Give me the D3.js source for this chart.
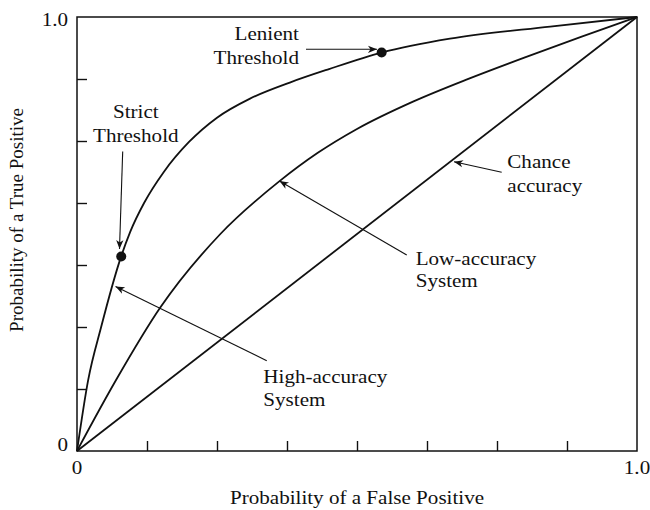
<!DOCTYPE html>
<html>
<head>
<meta charset="utf-8">
<script src="https://cdn.jsdelivr.net/npm/d3@7/dist/d3.min.js"></script>
<style>
  body { margin: 0; background: #fff; }
  text { font-family: "Liberation Serif", "Times New Roman", serif; font-size: 19px; fill: #111; }
  .curve { fill: none; stroke: #111; stroke-width: 1.8px; }
  .arrow { stroke: #111; stroke-width: 1.1px; }
</style>
</head>
<body>
<div class="roc"></div>
<script>
// ROC curves (false positive rate, true positive rate)
const highFP = [0, 0.02, 0.043, 0.079, 0.095, 0.12, 0.155, 0.2, 0.25, 0.309, 0.38, 0.45, 0.544, 0.666, 0.845, 1]
const highTP = [0, 0.164, 0.285, 0.449, 0.505, 0.572, 0.643, 0.712, 0.768, 0.812, 0.849, 0.88, 0.918, 0.95, 0.978, 1]
const lowFP = [0, 0.07, 0.149, 0.256, 0.36, 0.43, 0.5, 0.6, 0.7, 0.8, 0.9, 1]
const lowTP = [0, 0.164, 0.331, 0.5, 0.62, 0.687, 0.742, 0.805, 0.858, 0.907, 0.954, 1]
const chanceFP = [0, 1]
const chanceTP = [0, 1]

// threshold points
const thresholds = [
  { name: 'strict', fp: 0.079, tp: 0.448 },
  { name: 'lenient', fp: 0.544, tp: 0.918 }
]

const xTicks = [0, 0.125, 0.25, 0.375, 0.5, 0.625, 0.75, 0.875, 1]
const yTicks = [0, 1/7, 2/7, 3/7, 4/7, 5/7, 6/7, 1]
const xTickLabels = ['0', '1.0']
const yTickLabels = ['0', '1.0']

const svg = d3.select('.roc')
  .append('svg')
    .attr('width', 650)
    .attr('height', 510)

const x = d3.scaleLinear().domain([0, 1]).range([77, 637])
const y = d3.scaleLinear().domain([0, 1]).range([451, 17])

// horizontal text is a bit wider than tall in the original
const stretch = 1.11
function label (px, py, lines, anchor, gap) {
  lines.forEach((t, i) => {
    svg.append('text')
      .attr('transform', `translate(${px},${py + i * gap}) scale(${stretch},1)`)
      .attr('text-anchor', anchor)
      .text(t)
  })
}

//arrow head
svg.append('defs').append('marker')
  .attr('id', 'head')
  .attr('viewBox', '-10 -5 11 10')
  .attr('refX', 0)
  .attr('refY', 0)
  .attr('markerWidth', 11)
  .attr('markerHeight', 10)
  .attr('markerUnits', 'userSpaceOnUse')
  .attr('orient', 'auto')
  .append('path')
    .attr('d', 'M0,0 L-9,-3.6 L-6.5,0 L-9,3.6 Z')
    .attr('fill', '#111')

//ticks
svg.append('g')
  .attr('transform', `translate(0,${y(0)})`)
  .call(d3.axisBottom(x).tickValues(xTicks.slice(1, -1)).tickSize(-10).tickFormat(''))
  .call(g => g.select('.domain').remove())
  .selectAll('line').attr('stroke', '#111').attr('stroke-width', 1.4)

svg.append('g')
  .attr('transform', `translate(${x(0)},0)`)
  .call(d3.axisLeft(y).tickValues(yTicks.slice(1, -1)).tickSize(-10).tickFormat(''))
  .call(g => g.select('.domain').remove())
  .selectAll('line').attr('stroke', '#111').attr('stroke-width', 1.4)

//frame
svg.append('rect')
  .attr('x', x(0))
  .attr('y', y(1))
  .attr('width', x(1) - x(0))
  .attr('height', y(0) - y(1))
  .attr('fill', 'none')
  .attr('stroke', '#111')
  .attr('stroke-width', 1.5)

//tick labels
label(x(0), y(0) + 23, [xTickLabels[0]], 'middle', 0)
label(x(1), y(0) + 23, [xTickLabels[1]], 'middle', 0)
label(x(0) - 9, y(0), [yTickLabels[0]], 'end', 0)
label(x(0) - 9, y(1) + 8.5, [yTickLabels[1]], 'end', 0)

//axis titles
label(357, 504, ['Probability of a False Positive'], 'middle', 0)
svg.append('text')
  .attr('transform', 'translate(23,220) rotate(-90)')
  .attr('text-anchor', 'middle')
  .text('Probability of a True Positive')

//curves
const line = d3.line()
  .x(d => x(d[0]))
  .y(d => y(d[1]))
  .curve(d3.curveMonotoneX)

const series = [
  d3.zip(highFP, highTP),
  d3.zip(lowFP, lowTP),
  d3.zip(chanceFP, chanceTP)
]

svg.selectAll('.curve')
  .data(series)
  .enter().append('path')
    .attr('class', 'curve')
    .attr('d', line)

//threshold dots
svg.selectAll('circle')
  .data(thresholds)
  .enter().append('circle')
    .attr('cx', d => x(d.fp))
    .attr('cy', d => y(d.tp))
    .attr('r', 5)
    .attr('fill', '#111')

//annotations: text anchor point, lines, arrow from/to (data units)
const notes = [
  { lines: ['Strict', 'Threshold'], at: [0.105, 0.7673], anchor: 'middle', gap: 24,
    from: [0.0816, 0.690], to: [0.0759, 0.4654] },
  { lines: ['Lenient', 'Threshold'], at: [0.3964, 0.947], anchor: 'end', gap: 23.5,
    from: [0.4089, 0.9256], to: [0.5357, 0.9256] },
  { lines: ['High-accuracy', 'System'], at: [0.3327, 0.156], anchor: 'start', gap: 22.5,
    from: [0.3388, 0.2081], to: [0.0688, 0.379] },
  { lines: ['Low-accuracy', 'System'], at: [0.6048, 0.4286], anchor: 'start', gap: 22.5,
    from: [0.5888, 0.4516], to: [0.3616, 0.6221] },
  { lines: ['Chance', 'accuracy'], at: [0.7684, 0.6514], anchor: 'start', gap: 24,
    from: [0.7584, 0.6422], to: [0.6732, 0.6666] }
]

svg.selectAll('.arrow')
  .data(notes)
  .enter().append('line')
    .attr('class', 'arrow')
    .attr('x1', d => x(d.from[0]))
    .attr('y1', d => y(d.from[1]))
    .attr('x2', d => x(d.to[0]))
    .attr('y2', d => y(d.to[1]))
    .attr('marker-end', 'url(#head)')

notes.forEach(d => label(x(d.at[0]), y(d.at[1]), d.lines, d.anchor, d.gap))
</script>
</body>
</html>
